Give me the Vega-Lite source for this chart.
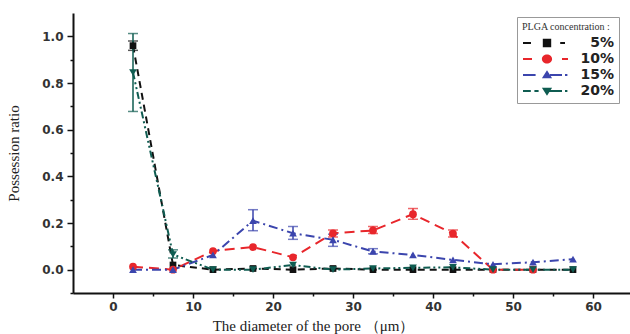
{
  "$schema": "https://vega.github.io/schema/vega-lite/v6.json",
  "width": 557,
  "height": 280,
  "autosize": "none",
  "padding": {"left": 73, "top": 13, "right": 0, "bottom": 41},
  "background": "white",
  "config": {"view": {"stroke": null}},
  "data": {"values": [
    {"series": "5%", "d": 2.5, "r": 0.96, "lo": 0.94, "hi": 0.98},
    {"series": "5%", "d": 7.5, "r": 0.02},
    {"series": "5%", "d": 12.5, "r": 0.0},
    {"series": "5%", "d": 17.5, "r": 0.005},
    {"series": "5%", "d": 22.5, "r": 0.0},
    {"series": "5%", "d": 27.5, "r": 0.005},
    {"series": "5%", "d": 32.5, "r": 0.0},
    {"series": "5%", "d": 37.5, "r": 0.0},
    {"series": "5%", "d": 42.5, "r": 0.0},
    {"series": "5%", "d": 47.5, "r": 0.0},
    {"series": "5%", "d": 52.5, "r": 0.0},
    {"series": "5%", "d": 57.5, "r": 0.0},
    {"series": "10%", "d": 2.5, "r": 0.013},
    {"series": "10%", "d": 7.5, "r": 0.0},
    {"series": "10%", "d": 12.5, "r": 0.08},
    {"series": "10%", "d": 17.5, "r": 0.097},
    {"series": "10%", "d": 22.5, "r": 0.053},
    {"series": "10%", "d": 27.5, "r": 0.156, "lo": 0.14, "hi": 0.17},
    {"series": "10%", "d": 32.5, "r": 0.168, "lo": 0.155, "hi": 0.185},
    {"series": "10%", "d": 37.5, "r": 0.238, "lo": 0.216, "hi": 0.262},
    {"series": "10%", "d": 42.5, "r": 0.154, "lo": 0.14, "hi": 0.17},
    {"series": "10%", "d": 47.5, "r": 0.0},
    {"series": "10%", "d": 52.5, "r": 0.0},
    {"series": "15%", "d": 2.5, "r": 0.0},
    {"series": "15%", "d": 7.5, "r": 0.0},
    {"series": "15%", "d": 12.5, "r": 0.063},
    {"series": "15%", "d": 17.5, "r": 0.21, "lo": 0.167, "hi": 0.257},
    {"series": "15%", "d": 22.5, "r": 0.156, "lo": 0.13, "hi": 0.185},
    {"series": "15%", "d": 27.5, "r": 0.128, "lo": 0.1, "hi": 0.152},
    {"series": "15%", "d": 32.5, "r": 0.078, "lo": 0.068, "hi": 0.09},
    {"series": "15%", "d": 37.5, "r": 0.063},
    {"series": "15%", "d": 42.5, "r": 0.042},
    {"series": "15%", "d": 47.5, "r": 0.023},
    {"series": "15%", "d": 52.5, "r": 0.032},
    {"series": "15%", "d": 57.5, "r": 0.045},
    {"series": "20%", "d": 2.5, "r": 0.845, "lo": 0.678, "hi": 1.012},
    {"series": "20%", "d": 7.5, "r": 0.065, "lo": 0.05, "hi": 0.085},
    {"series": "20%", "d": 12.5, "r": 0.0},
    {"series": "20%", "d": 17.5, "r": 0.0},
    {"series": "20%", "d": 22.5, "r": 0.02},
    {"series": "20%", "d": 27.5, "r": 0.0},
    {"series": "20%", "d": 32.5, "r": 0.005},
    {"series": "20%", "d": 37.5, "r": 0.008},
    {"series": "20%", "d": 42.5, "r": 0.01},
    {"series": "20%", "d": 47.5, "r": 0.0},
    {"series": "20%", "d": 52.5, "r": 0.0},
    {"series": "20%", "d": 57.5, "r": 0.0}
  ]},
  "encoding": {
    "x": {
      "field": "d", "type": "quantitative",
      "scale": {"domain": [-5, 64.625], "nice": false, "zero": false},
      "axis": {
        "title": "The diameter of the pore （μm）",
        "titleFont": "Liberation Serif", "titleFontSize": 15, "titleFontWeight": "normal", "titleColor": "#222",
        "titleX": 240, "titleY": 32, "titleBaseline": "middle", "titleAlign": "center",
        "values": [0, 5, 10, 15, 20, 25, 30, 35, 40, 45, 50, 55, 60],
        "labelExpr": "datum.value % 10 === 0 ? format(datum.value, 'd') : ''",
        "labelFont": "DejaVu Sans", "labelFontWeight": "bold", "labelFontSize": 12, "labelColor": "#333",
        "labelPadding": 3,
        "tickSize": {"condition": {"test": "datum.value % 10 === 0", "value": 5}, "value": 3},
        "tickColor": "#111", "tickWidth": 1.5,
        "domainColor": "#111", "domainWidth": 2, "grid": false
      }
    },
    "y": {
      "field": "r", "type": "quantitative",
      "scale": {"domain": [-0.1, 1.1], "nice": false, "zero": false},
      "axis": {
        "title": "Possession ratio",
        "titleFont": "Liberation Serif", "titleFontSize": 15, "titleFontWeight": "normal", "titleColor": "#222",
        "titleX": -60, "titleY": 140, "titleBaseline": "middle", "titleAlign": "center",
        "values": [-0.1, 0, 0.1, 0.2, 0.3, 0.4, 0.5, 0.6, 0.7, 0.8, 0.9, 1.0],
        "labelExpr": "round(datum.value*10) % 2 === 0 ? format(datum.value, '.1f') : ''",
        "labelFont": "DejaVu Sans", "labelFontWeight": "bold", "labelFontSize": 12, "labelColor": "#333",
        "labelPadding": 4,
        "tickSize": {"condition": {"test": "round(datum.value*10) % 2 === 0", "value": 6}, "value": 3},
        "tickColor": "#111", "tickWidth": 1.5,
        "domainColor": "#111", "domainWidth": 2, "grid": false
      }
    }
  },
  "layer": [
    {
      "transform": [{"filter": "false"}],
      "mark": {"type": "point", "filled": true, "opacity": 1, "size": 144, "strokeWidth": 0},
      "encoding": {
        "color": {
          "field": "series", "type": "nominal", "title": "PLGA concentration :",
          "scale": {"domain": ["5%", "10%", "15%", "20%"], "range": ["#111111", "#e8262b", "#3b45ad", "#0f5c51"]},
          "legend": {
            "orient": "none", "legendX": 444, "legendY": 4,
            "strokeColor": "#999", "padding": 5, "fillColor": "white",
            "titleFont": "Liberation Serif", "titleFontSize": 10, "titleFontWeight": "normal", "titleColor": "#333",
            "titlePadding": 4,
            "labelFont": "DejaVu Sans", "labelFontWeight": "bold", "labelFontSize": 14, "labelColor": "#222",
            "labelAlign": "right", "labelOffset": 78, "labelLimit": 200,
            "symbolSize": 144, "symbolOpacity": 1, "symbolStrokeWidth": 0, "symbolStrokeColor": "transparent",
            "rowPadding": 2
          }
        },
        "shape": {
          "field": "series", "type": "nominal", "title": "PLGA concentration :",
          "scale": {"domain": ["5%", "10%", "15%", "20%"], "range": [
            "M-1,-0.18H0.33V0.18H-1Z M2.3,-0.7H3.7V0.7H2.3Z M5.2,-0.18H6V0.18H5.2Z",
            "M-1,-0.18H0.5V0.18H-1Z M3.85,0A0.85,0.75 0 1 1 2.15,0A0.85,0.75 0 1 1 3.85,0Z M5.5,-0.18H6.5V0.18H5.5Z",
            "M-1,-0.18H1.1V0.18H-1Z M3,-0.8L3.85,0.55L2.15,0.55Z M3.5,-0.18H5.5V0.18H3.5Z M6,-0.18H6.4V0.18H6Z",
            "M-1,-0.18H0.3V0.18H-1Z M0.9,-0.18H1.6V0.18H0.9Z M2.15,-0.55L3.85,-0.55L3,0.8Z M3.5,-0.18H5.5V0.18H3.5Z M6,-0.18H6.4V0.18H6Z"
          ]},
          "legend": {"orient": "none", "legendX": 444, "legendY": 4}
        }
      }
    },
    {
      "mark": {"type": "line", "strokeWidth": 2},
      "encoding": {
        "color": {"field": "series", "type": "nominal", "legend": null},
        "strokeDash": {
          "field": "series", "type": "nominal", "legend": null,
          "scale": {"domain": ["5%", "10%", "15%", "20%"], "range": [[7, 5], [10, 6], [9, 4, 2, 4], [7, 3, 2, 3, 2, 3]]}
        },
        "order": {"field": "d", "type": "quantitative"}
      }
    },
    {
      "transform": [{"filter": "isValid(datum.lo)"}],
      "mark": {"type": "errorbar", "ticks": {"size": 10}, "thickness": 1.5},
      "encoding": {
        "y": {"field": "lo", "type": "quantitative"},
        "y2": {"field": "hi"},
        "color": {"field": "series", "type": "nominal", "legend": null}
      }
    },
    {
      "transform": [{"filter": "datum.series === '5%'"}],
      "mark": {"type": "point", "filled": true, "opacity": 1, "shape": "square", "size": 45},
      "encoding": {"color": {"field": "series", "type": "nominal", "legend": null}}
    },
    {
      "transform": [{"filter": "datum.series === '10%'"}],
      "mark": {"type": "point", "filled": true, "opacity": 1, "shape": "circle", "size": 60},
      "encoding": {"color": {"field": "series", "type": "nominal", "legend": null}}
    },
    {
      "transform": [{"filter": "datum.series === '15%'"}],
      "mark": {"type": "point", "filled": true, "opacity": 1, "shape": "triangle-up", "size": 60},
      "encoding": {"color": {"field": "series", "type": "nominal", "legend": null}}
    },
    {
      "transform": [{"filter": "datum.series === '20%'"}],
      "mark": {"type": "point", "filled": true, "opacity": 1, "shape": "triangle-down", "size": 60},
      "encoding": {"color": {"field": "series", "type": "nominal", "legend": null}}
    }
  ]
}
